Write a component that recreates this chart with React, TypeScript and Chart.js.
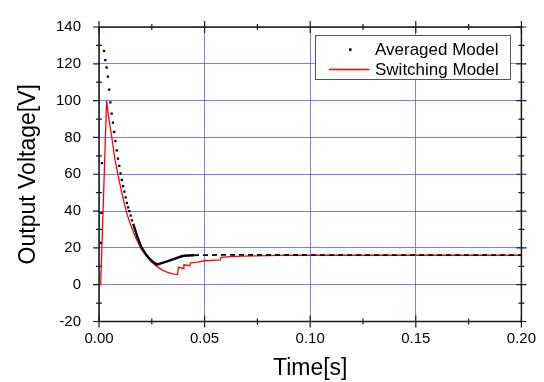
import { useEffect, useRef } from 'react';
import { Chart, registerables } from 'chart.js';

Chart.register(...registerables);

const FONT = "'Liberation Sans', Arial, Helvetica, sans-serif";

const seriesLabels = ['Averaged Model', 'Switching Model'];

// Averaged model (black dots, then dense/solid section, then steady state)
const avgTime = [
  0.0008, 0.0011, 0.0014,
  0.0024, 0.0030, 0.0036, 0.0042, 0.0048, 0.0054, 0.0060, 0.0066, 0.0072, 0.0078,
  0.0084, 0.0090, 0.0096, 0.0102, 0.0108, 0.0114, 0.0120, 0.0126, 0.0132, 0.0138,
  0.0144, 0.0150, 0.0156, 0.0162,
  0.0180, 0.0200, 0.0220, 0.0240, 0.0260, 0.0275, 0.0300, 0.0330, 0.0360, 0.0388,
  0.0403, 0.0450, 0.0600, 0.0800, 0.1000, 0.1500, 0.2000,
];
const avgVoltage = [
  22.7, 39, 66,
  127, 122, 118, 113, 106, 99, 93, 88, 83, 78,
  73, 68.5, 64.5, 60.5, 57, 53.5, 50.5, 47.5, 44.5, 42,
  40, 37.5, 35, 33,
  26.5, 20.5, 16.8, 14, 12, 10.9, 11.8, 13, 14.2, 15.3,
  15.7, 16, 16.2, 16.2, 16.1, 16.1, 16.1,
];

// Switching model (red line)
const swTime = [
  0, 0.0008, 0.0036, 0.0045, 0.006, 0.0075, 0.009, 0.0105, 0.012, 0.0135, 0.015,
  0.0165, 0.018, 0.020, 0.0225, 0.025, 0.0275, 0.030, 0.0325, 0.035, 0.0372,
  0.0376, 0.0398, 0.0402, 0.0430, 0.0434, 0.0466, 0.050, 0.0575, 0.0578, 0.062,
  0.068, 0.075, 0.085, 0.100, 0.200,
];
const swVoltage = [
  0, 0, 100, 91.5, 80.5, 68.5, 59.5, 51.5, 44, 37.5, 32.5,
  28, 24, 19.5, 15.5, 12.2, 9.8, 7.9, 6.7, 5.9, 5.5,
  9.5, 8.8, 10.8, 10.3, 11.9, 12.3, 13.0, 13.5, 14.8, 15.2,
  15.5, 15.7, 15.9, 16.0, 16.0,
];

const xTickLabels = ['0.00', '0.05', '0.10', '0.15', '0.20'];
const yTickLabels = ['-20', '0', '20', '40', '60', '80', '100', '120', '140'];
const xTitle = 'Time[s]';
const yTitle = 'Output Voltage[V]';

const X_MIN = 0, X_MAX = 0.2, X_STEP = 0.05;
const Y_MIN = -20, Y_MAX = 140, Y_STEP = 20;
const DOT_END = 0.0161;
const DASH_START = 0.044;

const framePlugin = {
  id: 'frameTicks',
  afterDatasetsDraw(chart: any) {
    const { ctx, chartArea: a, scales } = chart;
    const xs = scales.x, ys = scales.y;
    ctx.save();
    ctx.strokeStyle = '#1a1a1a';
    ctx.lineWidth = 1.5;
    ctx.strokeRect(a.left, a.top, a.right - a.left, a.bottom - a.top);
    ctx.lineWidth = 1.2;
    ctx.beginPath();
    const nx = Math.round((X_MAX - X_MIN) / (X_STEP / 2));
    for (let i = 0; i <= nx; i++) {
      const v = X_MIN + (i * X_STEP) / 2;
      const px = xs.getPixelForValue(v);
      const major = i % 2 === 0;
      if (major) {
        ctx.moveTo(px, a.bottom - 6); ctx.lineTo(px, a.bottom + 6);
        ctx.moveTo(px, a.top - 6); ctx.lineTo(px, a.top + 6);
      } else {
        ctx.moveTo(px, a.bottom - 3); ctx.lineTo(px, a.bottom + 3);
        ctx.moveTo(px, a.top - 3); ctx.lineTo(px, a.top + 3);
      }
    }
    const ny = Math.round((Y_MAX - Y_MIN) / (Y_STEP / 2));
    for (let i = 0; i <= ny; i++) {
      const v = Y_MIN + (i * Y_STEP) / 2;
      const py = ys.getPixelForValue(v);
      const major = i % 2 === 0;
      if (major) {
        ctx.moveTo(a.left - 6, py); ctx.lineTo(a.left, py);
        ctx.moveTo(a.right - 5, py); ctx.lineTo(a.right + 5, py);
      } else {
        ctx.moveTo(a.left - 3, py); ctx.lineTo(a.left + 3, py);
        ctx.moveTo(a.right - 3, py); ctx.lineTo(a.right + 3, py);
      }
    }
    ctx.stroke();
    ctx.restore();
  },
  afterDraw(chart: any) {
    const { ctx } = chart;
    const ds = chart.data.datasets;
    ctx.save();
    const bx = 315.5, by = 35.5, bw = 195, bh = 44;
    ctx.fillStyle = '#ffffff';
    ctx.fillRect(bx, by, bw, bh);
    ctx.strokeStyle = '#555555';
    ctx.lineWidth = 1;
    ctx.strokeRect(bx, by, bw, bh);
    ctx.fillStyle = '#000000';
    ctx.fillRect(349, 48.3, 2.6, 2.6);
    ctx.strokeStyle = '#ff0000';
    ctx.lineWidth = 1.3;
    ctx.beginPath();
    ctx.moveTo(329, 69.5);
    ctx.lineTo(369.5, 69.5);
    ctx.stroke();
    ctx.fillStyle = '#000000';
    ctx.font = `17px ${FONT}`;
    ctx.textAlign = 'left';
    ctx.textBaseline = 'middle';
    ctx.fillText(ds[0].label, 375, 50);
    ctx.fillText(ds[1].label, 375, 70);
    ctx.restore();
  },
};

export default function App() {
  const ref = useRef<HTMLCanvasElement | null>(null);

  useEffect(() => {
    if (!ref.current) return;
    const avgData = avgTime.map((t, i) => ({ x: t, y: avgVoltage[i] }));
    const swData = swTime.map((t, i) => ({ x: t, y: swVoltage[i] }));

    const chart = new Chart(ref.current, {
      type: 'line',
      data: {
        datasets: [
          {
            label: seriesLabels[0],
            data: avgData,
            borderColor: '#000000',
            backgroundColor: '#000000',
            borderWidth: 2.4,
            pointStyle: 'rect',
            pointRadius: (c: any) => (c.raw && c.raw.x < DOT_END ? 1.6 : 0),
            pointBorderWidth: 0,
            pointHoverRadius: 0,
            tension: 0,
            order: 0,
            segment: {
              borderColor: (c: any) => (c.p0.parsed.x < DOT_END ? 'transparent' : undefined),
              borderDash: (c: any) => (c.p0.parsed.x >= DASH_START ? [5, 4] : undefined),
              borderWidth: (c: any) => (c.p0.parsed.x >= DASH_START ? 1.8 : undefined),
            },
          } as any,
          {
            label: seriesLabels[1],
            data: swData,
            borderColor: '#ff0000',
            backgroundColor: '#ff0000',
            borderWidth: 1.3,
            pointRadius: 0,
            pointHoverRadius: 0,
            tension: 0,
            order: 1,
          },
        ],
      },
      options: {
        animation: false,
        responsive: true,
        maintainAspectRatio: false,
        layout: { padding: { left: 0, top: 16, right: 18.3, bottom: 0 } },
        plugins: { legend: { display: false }, tooltip: { enabled: false } },
        scales: {
          x: {
            type: 'linear',
            min: X_MIN,
            max: X_MAX,
            afterFit: (s: any) => { s.height = 60.5; },
            afterBuildTicks: (s: any) => {
              s.ticks = xTickLabels.map((_, i) => ({ value: X_MIN + i * X_STEP }));
            },
            ticks: {
              callback: (_v: any, i: number) => xTickLabels[i],
              color: '#000000',
              font: { family: FONT, size: 15 },
              padding: 8,
              maxRotation: 0,
            },
            grid: { color: 'rgba(70,70,255,0.7)', lineWidth: 1, drawTicks: false },
            border: { display: false },
            title: {
              display: true,
              text: xTitle,
              color: '#000000',
              font: { family: FONT, size: 23, lineHeight: 1.2 },
              padding: { top: 0, bottom: 0 },
            },
          },
          y: {
            type: 'linear',
            min: Y_MIN,
            max: Y_MAX,
            afterFit: (s: any) => { s.width = 99; },
            afterBuildTicks: (s: any) => {
              s.ticks = yTickLabels.map((_, i) => ({ value: Y_MIN + i * Y_STEP }));
            },
            ticks: {
              callback: (_v: any, i: number) => yTickLabels[i],
              color: '#000000',
              font: { family: FONT, size: 15 },
              padding: 18,
            },
            grid: { color: 'rgba(70,70,255,0.7)', lineWidth: 1, drawTicks: false },
            border: { display: false },
            title: {
              display: true,
              text: yTitle,
              color: '#000000',
              font: { family: FONT, size: 23, lineHeight: 1.2 },
              padding: { top: 15, bottom: 0 },
            },
          },
        },
      } as any,
      plugins: [framePlugin],
    });
    return () => chart.destroy();
  }, []);

  return (
    <div style={{ position: 'fixed', left: 0, top: 0, width: 544, height: 382, background: '#fff' }}>
      <canvas ref={ref} />
    </div>
  );
}
